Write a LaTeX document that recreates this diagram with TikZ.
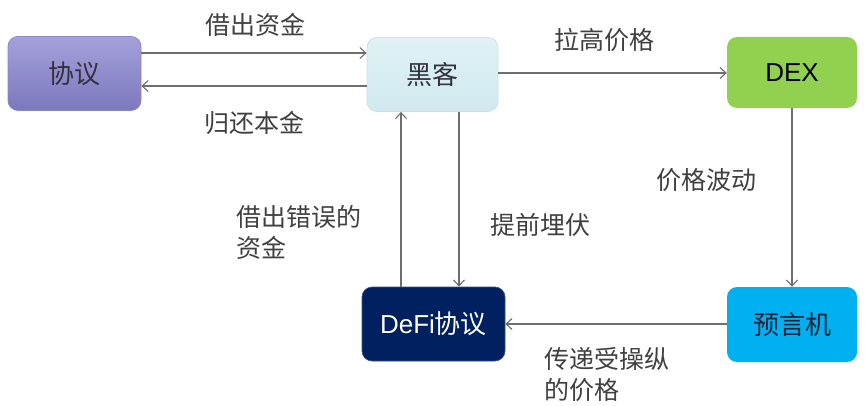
\documentclass[tikz,border=0pt]{standalone}
\usepackage{fontspec}
\setmainfont{Liberation Sans}
\newfontfamily\cjk{Noto Sans CJK SC}
\usetikzlibrary{arrows.meta,shadings}
\definecolor{arrgray}{HTML}{6E6E6E}
\definecolor{lblgray}{HTML}{404040}
\tikzset{
  box/.style={rounded corners=10pt, minimum width=#1, minimum height=74pt, inner sep=0pt, font=\fontsize{26}{30}\selectfont},
  arr/.style={draw=arrgray, line width=1.4pt, -{Straight Barb[length=6pt,width=11pt,line width=1.1pt]}},
  lbl/.style={text=lblgray, font=\cjk\fontsize{25}{31}\selectfont, inner sep=0pt, align=left},
}
\begin{document}
\begin{tikzpicture}[x=1pt,y=-1pt]
\useasboundingbox (0,0) rectangle (865,406);
% boxes
\node[box=133pt, top color={rgb,255:red,164;green,161;blue,219}, bottom color={rgb,255:red,124;green,120;blue,189}, draw={rgb,255:red,140;green,136;blue,200}, line width=0.8pt, text={rgb,255:red,50;green,50;blue,60}] (xy) at (74.5,73.5) {\cjk 协议};
\node[box=131pt, top color={rgb,255:red,224;green,242;blue,246}, bottom color={rgb,255:red,208;green,233;blue,239}, draw={rgb,255:red,200;green,228;blue,235}, line width=0.8pt, text={rgb,255:red,50;green,50;blue,60}] (hk) at (432.5,74.5) {\cjk 黑客};
\node[box=130pt, minimum height=71pt, fill={rgb,255:red,146;green,208;blue,80}, text=black] (dex) at (792,72.5) {DEX};
\node[box=143pt, fill={rgb,255:red,0;green,32;blue,96}, text=white, draw={rgb,255:red,60;green,80;blue,130}, line width=0.6pt] (defi) at (433.5,324) {DeFi{\cjk 协议}};
\node[box=130pt, minimum height=75pt, fill={rgb,255:red,0;green,176;blue,240}, text={rgb,255:red,20;green,35;blue,55}] (oracle) at (792,324.5) {\cjk 预言机};
% connectors
\draw[arr] (xy.east |- 0,53) -- (hk.west |- 0,53);
\draw[arr] (hk.west |- 0,86) -- (xy.east |- 0,86);
\draw[arr] (hk.east |- 0,73) -- (dex.west |- 0,73);
\draw[arr] (dex.south) -- (oracle.north);
\draw[arr] (oracle.west |- 0,324) -- (defi.east |- 0,324);
\draw[arr] (hk.south -| 459,0) -- (defi.north -| 459,0);
\draw[arr] (defi.north -| 401,0) -- (hk.south -| 401,0);
% labels
\node[lbl] (l1) at (255,25) {借出资金};
\node[lbl] (l2) at (254,123) {归还本金};
\node[lbl] (l3) at (604,40) {拉高价格};
\node[lbl] (l4) at (706,180) {价格波动};
\node[lbl] (l5) at (540,225) {提前埋伏};
\node[lbl, anchor=west] (l6) at (236,232) {借出错误的\\资金};
\node[lbl, anchor=west] (l7) at (544,375) {传递受操纵\\的价格};
\end{tikzpicture}
\end{document}
